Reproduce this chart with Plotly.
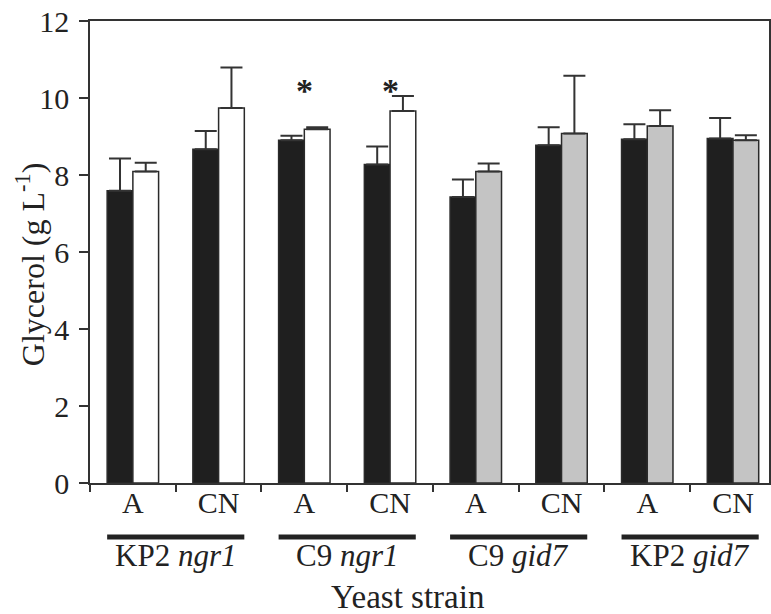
import plotly.graph_objects as go

# ---- data ----
conditions = ["A", "CN", "A", "CN", "A", "CN", "A", "CN"]
strains = ["KP2 <i>ngr1</i>", "C9 <i>ngr1</i>", "C9 <i>gid7</i>", "KP2 <i>gid7</i>"]
dark_vals = [7.59, 8.67, 8.90, 8.27, 7.43, 8.77, 8.93, 8.95]
dark_err = [0.84, 0.47, 0.12, 0.47, 0.45, 0.47, 0.39, 0.53]
light_vals = [8.09, 9.74, 9.19, 9.66, 8.09, 9.08, 9.27, 8.90]
light_err = [0.23, 1.05, 0.05, 0.39, 0.21, 1.50, 0.41, 0.13]
signif = [False, False, True, True, False, False, False, False]
y_ticks = [0, 2, 4, 6, 8, 10, 12]

FONT = "Liberation Serif, Times New Roman, serif"
DARK = "#1f1f1f"
EDGE = "#2a2a2a"
xs = list(range(len(conditions)))
light_colors = ["#ffffff"] * 4 + ["#c4c4c4"] * 4

fig = go.Figure()
err_style = dict(type="data", symmetric=False, color="#333333", thickness=2, width=11)
fig.add_trace(go.Bar(
    x=xs, y=dark_vals,
    marker=dict(color=DARK, line=dict(color=EDGE, width=1.5)),
    error_y=dict(array=dark_err, arrayminus=[0] * len(xs), **err_style),
    showlegend=False,
))
fig.add_trace(go.Bar(
    x=xs, y=light_vals,
    marker=dict(color=light_colors, line=dict(color=EDGE, width=1.5)),
    error_y=dict(array=light_err, arrayminus=[0] * len(xs), **err_style),
    showlegend=False,
))

# significance asterisks
for i, s in enumerate(signif):
    if s:
        fig.add_annotation(x=xs[i], y=10.2, xref="x", yref="y", text="<b>*</b>",
                           showarrow=False, font=dict(family=FONT, size=34, color="#222"),
                           yanchor="middle")

# strain group bars and labels
for g, name in enumerate(strains):
    c = 2 * g + 0.5
    fig.add_shape(type="line", xref="x", yref="paper", x0=c - 0.8, x1=c + 0.8,
                  y0=-0.117, y1=-0.117, line=dict(color="#222", width=5))
    fig.add_annotation(x=c, y=-0.158, xref="x", yref="paper", text=name, showarrow=False,
                       font=dict(family=FONT, size=31, color="#222"), yanchor="middle")

fig.add_annotation(x=0.468, y=-0.247, xref="paper", yref="paper", text="Yeast strain",
                   showarrow=False, font=dict(family=FONT, size=33, color="#222"), yanchor="middle")
fig.add_annotation(x=-0.088, y=0.472, xref="paper", yref="paper", text="Glycerol (g L<sup>-1</sup>)",
                   textangle=-90, showarrow=False, font=dict(family=FONT, size=32, color="#222"),
                   xanchor="center", yanchor="middle")

fig.update_layout(
    width=771, height=614,
    margin=dict(l=90, r=0, t=21, b=131),
    paper_bgcolor="white", plot_bgcolor="white",
    barmode="group", bargap=0.4, bargroupgap=0,
    font=dict(family=FONT, color="#222"),
)
fig.update_xaxes(
    range=[-0.5, 7.42], tickmode="array", tickvals=xs, ticktext=conditions,
    ticks="", ticklen=0, tickfont=dict(family=FONT, size=30, color="#222"), ticklabelstandoff=-8,
    showline=True, linecolor="#333", linewidth=1.5, mirror=True, showgrid=False, zeroline=False,
    minor=dict(tickmode="array", tickvals=[x - 0.5 for x in xs], ticks="outside",
               ticklen=7, tickwidth=1.5, tickcolor="#333"),
)
fig.update_yaxes(
    range=[0, 12], tickmode="array", tickvals=y_ticks, ticks="outside", ticklen=9,
    tickwidth=1.5, tickcolor="#333", tickfont=dict(family=FONT, size=30, color="#222"),
    ticklabelstandoff=4,
    showline=True, linecolor="#333", linewidth=1.5, mirror=True, showgrid=False, zeroline=False,
)

fig.write_html("out.html")
